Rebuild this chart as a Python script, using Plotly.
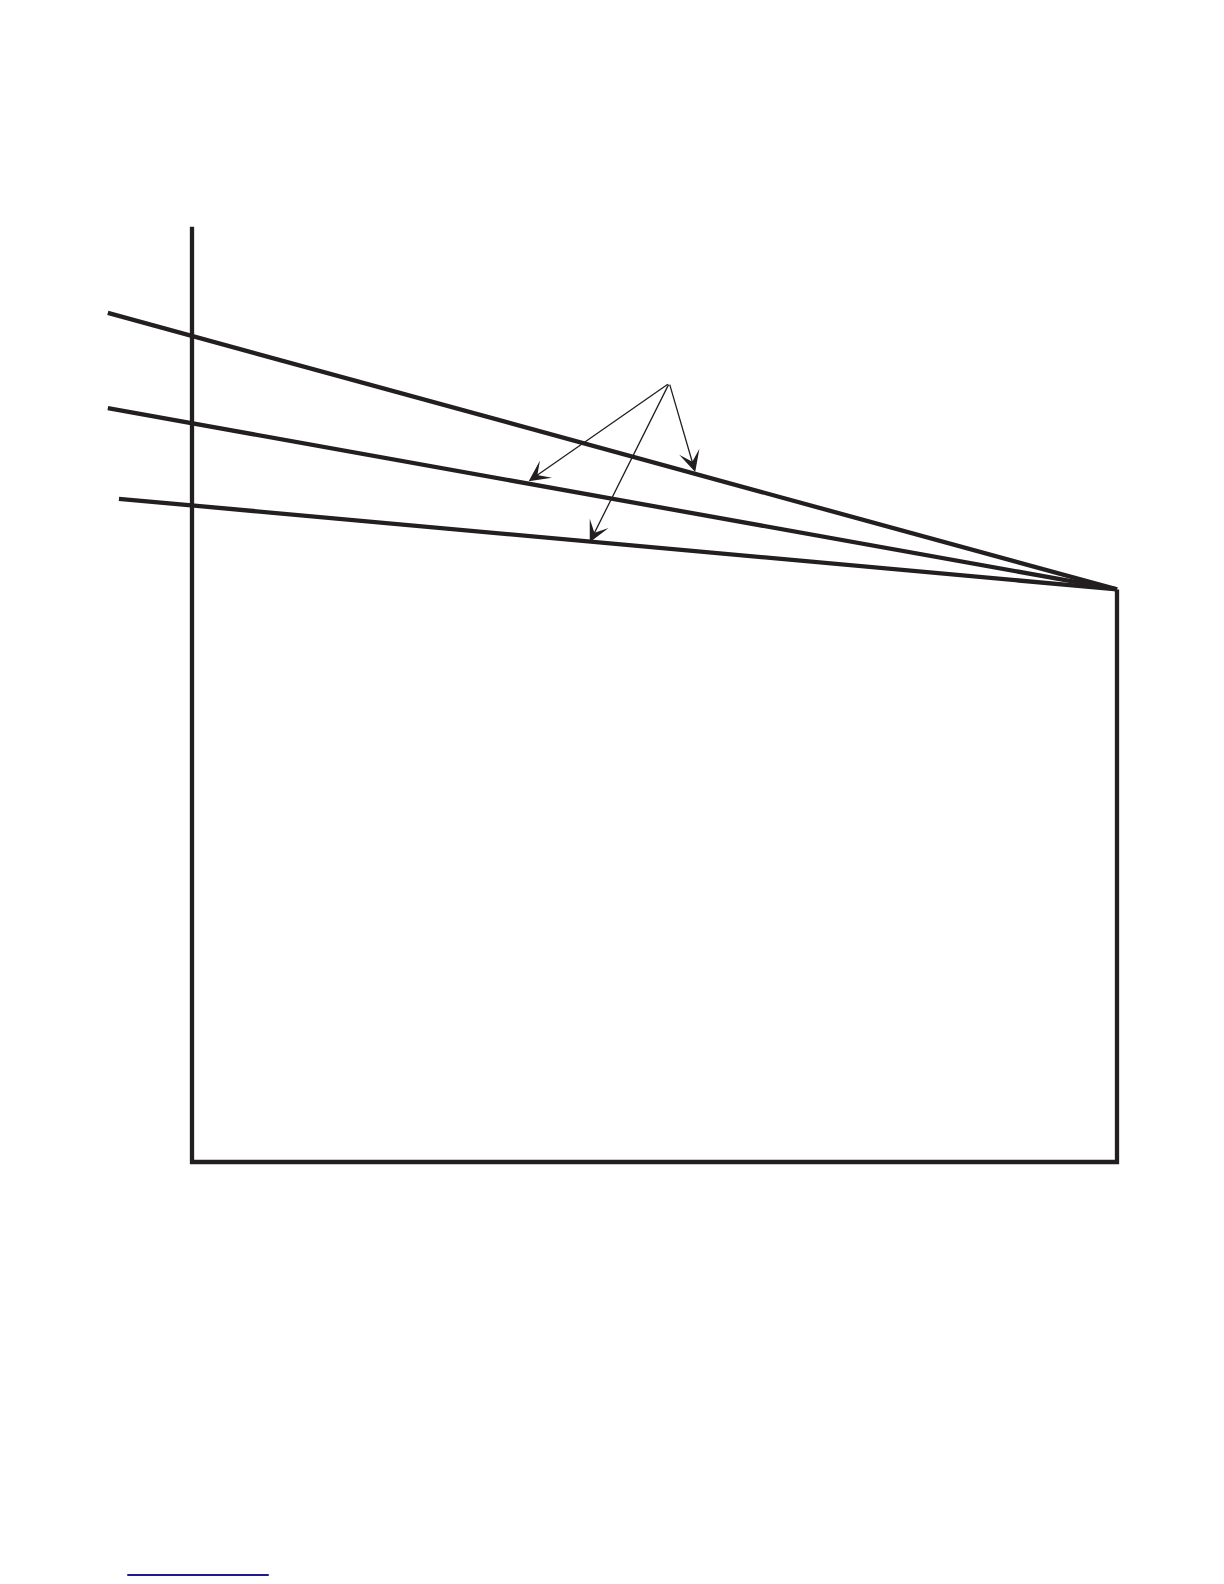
import plotly.graph_objects as go

# Diagram geometry in data units (origin at lower-left corner of the frame)
frame_x = [0.0, 0.0, 10.0, 10.0]
frame_y = [10.11, 0.0, 0.0, 6.19]

# Three converging lines: left start points, common right end point
line_start_x = [-0.91, -0.91, -0.79]
line_start_y = [9.18, 8.15, 7.17]
converge_x = 10.0
converge_y = 6.19

# Arrows from a single callout origin to each line
arrow_origin = (5.16, 8.42)
arrow_tip_x = [5.44, 3.64, 4.30]
arrow_tip_y = [7.46, 7.36, 6.70]

# Blue underline near the page bottom
underline_x = [-0.70, 0.83]
underline_y = [-4.465, -4.465]

INK = "#231f20"
PX = 92.5  # px per data unit
ORIGIN_PX = (192, 1162)
W, H = 1224, 1584

fig = go.Figure()

fig.add_trace(go.Scatter(x=frame_x, y=frame_y, mode="lines",
                         line=dict(color=INK, width=4.3), hoverinfo="skip"))

for sx, sy in zip(line_start_x, line_start_y):
    fig.add_trace(go.Scatter(x=[sx, converge_x], y=[sy, converge_y], mode="lines",
                             line=dict(color=INK, width=4.3), hoverinfo="skip"))

fig.add_trace(go.Scatter(x=underline_x, y=underline_y, mode="lines",
                         line=dict(color="#1c1c8f", width=1.8), hoverinfo="skip"))

for tx, ty in zip(arrow_tip_x, arrow_tip_y):
    fig.add_annotation(x=tx, y=ty, ax=arrow_origin[0], ay=arrow_origin[1],
                       xref="x", yref="y", axref="x", ayref="y",
                       text="", showarrow=True, arrowhead=3, arrowsize=2.7,
                       arrowwidth=1.3, arrowcolor=INK, standoff=0)

fig.update_layout(
    width=W, height=H,
    margin=dict(l=0, r=0, t=0, b=0),
    paper_bgcolor="white", plot_bgcolor="white",
    showlegend=False,
    xaxis=dict(range=[-ORIGIN_PX[0] / PX, (W - ORIGIN_PX[0]) / PX],
               visible=False, fixedrange=True),
    yaxis=dict(range=[(ORIGIN_PX[1] - H) / PX, ORIGIN_PX[1] / PX],
               visible=False, fixedrange=True),
)

fig.write_html("out.html", config={"displayModeBar": False},
               post_script="document.body.style.margin='0';document.documentElement.style.overflow='hidden';")
